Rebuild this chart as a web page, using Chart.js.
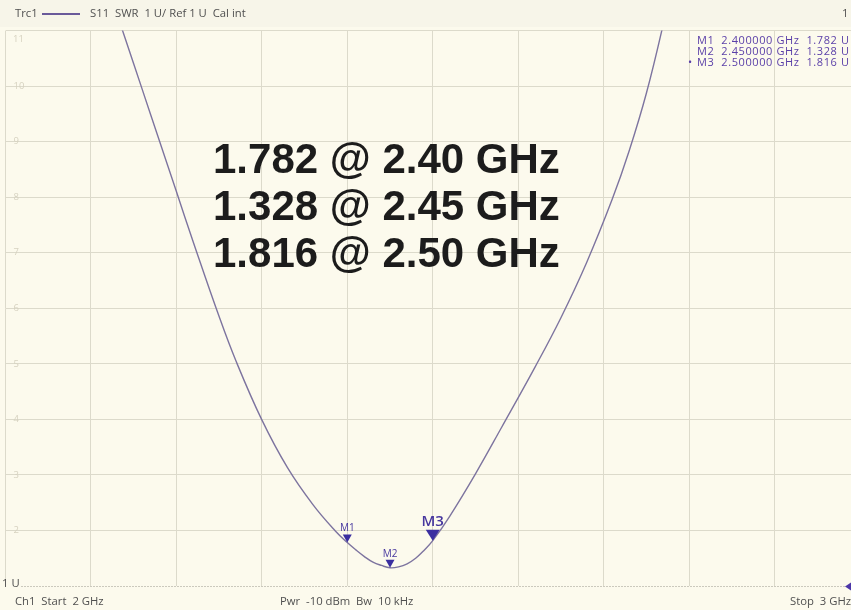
<!DOCTYPE html>
<html>
<head>
<meta charset="utf-8">
<title>S11 SWR</title>
<script src="https://cdn.jsdelivr.net/npm/chart.js@4"></script>
<style>
  html, body { margin: 0; padding: 0; width: 851px; height: 610px; overflow: hidden; background: #fcfaed; }
  #strip { position: absolute; left: 0; top: 0; width: 851px; height: 27px; background: #f7f5e9; }
  #wrap { position: absolute; left: 0; top: 0; width: 870px; height: 610px; }
  .txt { position: absolute; font-family: "Open Sans", sans-serif; font-size: 11.3px; color: #505050; white-space: pre; }
  .mk { position: absolute; font-family: "Open Sans", sans-serif; font-size: 11px; letter-spacing: 0.6px; line-height: 11px; color: #5a3fa8; white-space: pre; }
  #hdrLine { position: absolute; left: 42px; top: 13px; width: 38px; height: 2px; background: #6a5a9a; }
  #big { position: absolute; left: 213px; top: 135px; font-family: "Liberation Sans", Arial, sans-serif; font-weight: bold; font-size: 42px; line-height: 47px; color: #1c1c1c; white-space: pre; }
</style>
</head>
<body>
<div id="strip"></div>
<div id="wrap"><canvas id="swrChart"></canvas></div>

<div class="txt" style="left:15px;top:5px;">Trc1</div>
<div id="hdrLine"></div>
<div class="txt" style="left:90px;top:5px;">S11  SWR  1 U/ Ref 1 U  Cal int</div>
<div class="txt" style="left:842px;top:5px;">1</div>
<div class="txt" style="left:13px;top:32px;font-size:9.5px;color:#d6d2c0;">11</div>
<div class="txt" style="left:2px;top:575px;">1 U</div>
<div class="txt" style="left:15px;top:593px;">Ch1  Start  2 GHz</div>
<div class="txt" style="left:280px;top:593px;">Pwr  -10 dBm  Bw  10 kHz</div>
<div class="txt" style="left:790px;top:593px;">Stop  3 GHz</div>
<div id="mkTable"></div>
<div id="big"></div>

<script>
// ===== DATA =====
const FREQ_GHZ = [2.125, 2.140, 2.160, 2.180, 2.200, 2.220, 2.250, 2.270, 2.300, 2.330, 2.360, 2.386,
                  2.400, 2.410, 2.420, 2.430, 2.440, 2.450, 2.460, 2.470, 2.480, 2.490, 2.500,
                  2.520, 2.550, 2.580, 2.620, 2.650, 2.680, 2.710, 2.730, 2.750, 2.770, 2.780];
const SWR = [11.55, 10.86, 9.94, 9.02, 8.10, 7.18, 5.85, 5.04, 3.99, 3.13, 2.46, 1.99,
             1.782, 1.65, 1.53, 1.43, 1.37, 1.328, 1.345, 1.40, 1.50, 1.645, 1.816,
             2.26, 3.02, 3.84, 4.95, 5.83, 6.82, 7.96, 8.84, 9.87, 11.13, 11.88];

const MARKER_NAMES = ['M1', 'M2', 'M3'];
const MARKER_FREQ = [2.40, 2.45, 2.50];
const MARKER_SWR = [1.782, 1.328, 1.816];
const ACTIVE_MARKER = 'M3';

const Y_TICKS = [1, 2, 3, 4, 5, 6, 7, 8, 9, 10, 11];

// ===== TEXT =====
const table = document.getElementById('mkTable');
MARKER_NAMES.forEach((m, i) => {
  const top = 33.5 + i * 11.3;
  const row = document.createElement('div');
  row.className = 'mk';
  row.style.left = '697px';
  row.style.top = top + 'px';
  row.textContent = m + '  ' + MARKER_FREQ[i].toFixed(6) + ' GHz  ' + MARKER_SWR[i].toFixed(3) + ' U';
  table.appendChild(row);
  if (m === ACTIVE_MARKER) {
    const dot = document.createElement('div');
    dot.className = 'mk';
    dot.style.left = '688px';
    dot.style.top = top + 'px';
    dot.textContent = '\u2022';
    table.appendChild(dot);
  }
});

document.getElementById('big').textContent = MARKER_NAMES.map((m, i) =>
  MARKER_SWR[i].toFixed(3) + ' @ ' + MARKER_FREQ[i].toFixed(2) + ' GHz'
).join('\n');

// ===== PLUGINS =====
const refLinePlugin = {
  id: 'refLine',
  beforeDatasetsDraw(chart) {
    const { ctx, chartArea, scales } = chart;
    const y = Math.round(scales.y.getPixelForValue(1)) + 0.5;
    ctx.save();
    ctx.strokeStyle = '#9a988c';
    ctx.lineWidth = 1;
    ctx.setLineDash([1, 2]);
    ctx.beginPath();
    ctx.moveTo(chartArea.left + 16, y);
    ctx.lineTo(chartArea.right, y);
    ctx.stroke();
    ctx.restore();
    // reference level marker at the right edge
    ctx.save();
    ctx.fillStyle = '#4b36a8';
    ctx.beginPath();
    ctx.moveTo(845, y);
    ctx.lineTo(851, y - 4);
    ctx.lineTo(851, y + 4);
    ctx.closePath();
    ctx.fill();
    ctx.restore();
  }
};

const markerPlugin = {
  id: 'markers',
  afterDatasetsDraw(chart) {
    const { ctx, scales } = chart;
    MARKER_NAMES.forEach((m, i) => {
      const x = scales.x.getPixelForValue(MARKER_FREQ[i]);
      const y = scales.y.getPixelForValue(MARKER_SWR[i]);
      const big = m === ACTIVE_MARKER;
      const w = big ? 7 : 4.5;
      const h = big ? 11 : 8;
      ctx.save();
      ctx.fillStyle = '#3a2ea0';
      ctx.beginPath();
      ctx.moveTo(x, y);
      ctx.lineTo(x - w, y - h);
      ctx.lineTo(x + w, y - h);
      ctx.closePath();
      ctx.fill();
      ctx.fillStyle = '#46369e';
      ctx.font = (big ? '600 15px' : '10px') + ' "Open Sans", sans-serif';
      ctx.textAlign = 'center';
      ctx.textBaseline = 'bottom';
      ctx.fillText(m, x, y - h - (big ? 0 : 1));
      ctx.restore();
    });
  }
};

// ===== CHART =====
const chart = new Chart(document.getElementById('swrChart'), {
  type: 'line',
  data: {
    datasets: [{
      data: FREQ_GHZ.map((f, i) => ({ x: f, y: SWR[i] })),
      borderColor: '#7d749f',
      borderWidth: 1.4,
      pointRadius: 0,
      tension: 0.4,
      fill: false
    }]
  },
  options: {
    responsive: true,
    maintainAspectRatio: false,
    devicePixelRatio: 1,
    animation: false,
    layout: { padding: { left: 5.5, right: 10, top: 30.5, bottom: 24 } },
    plugins: { legend: { display: false }, tooltip: { enabled: false } },
    scales: {
      x: {
        type: 'linear', min: 2, max: 3,
        ticks: { display: false, stepSize: 0.1 },
        grid: { color: '#dcdacb', lineWidth: 1, drawTicks: false },
        border: { display: false },
        afterFit: s => { s.height = 0; }
      },
      y: {
        type: 'linear', min: 1, max: 11,
        afterBuildTicks: s => { s.ticks = Y_TICKS.map(v => ({ value: v })); },
        ticks: {
          mirror: true, padding: 8,
          color: '#d6d2c0',
          font: { family: 'Open Sans', size: 9.5 },
          callback: v => (v === 1 || v === 11 ? '' : String(v))
        },
        grid: {
          color: ctx => (ctx.tick && ctx.tick.value === 1 ? 'rgba(0,0,0,0)' : '#dcdacb'),
          lineWidth: 1, drawTicks: false
        },
        border: { display: false },
        afterFit: s => { s.width = 0; }
      }
    }
  },
  plugins: [refLinePlugin, markerPlugin]
});
</script>
</body>
</html>
